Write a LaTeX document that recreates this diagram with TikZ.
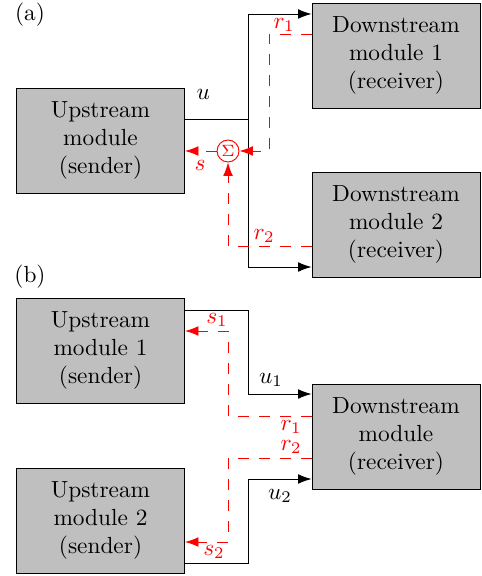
\documentclass[tikz,border=0pt]{standalone}
\usetikzlibrary{positioning, calc, arrows.meta}
\begin{document}
\begin{tikzpicture}[x=0.4286pt, y=-0.4286pt,
    module/.style={draw, fill=gray!50, align=center, minimum width=72pt, minimum height=45pt, inner sep=0pt},
    sig/.style={-{Latex[length=5.8pt,width=4.2pt]}},
    fb/.style={red, dash pattern=on 4.5pt off 4.5pt, -{Latex[length=5.8pt,width=4.2pt]}},
    sumnode/.style={circle, draw=red, fill=white, text=red, minimum size=9.4pt, inner sep=0pt, font=\scriptsize},
    lbl/.style={inner sep=0pt}]
    \useasboundingbox (0,0) rectangle (481,576);
    %parte (a)
    \node[lbl] (tagA) at (30,15) {(a)};
    \node[module] (up) at (100.5,140.5) {Upstream\\module\\(sender)};
    \node[module] (down1) at (396,55.5) {Downstream\\module 1\\(receiver)};
    \node[module] (down2) at (396,224.5) {Downstream\\module 2\\(receiver)};
    \node[sumnode] (sum) at (228,151) {$\Sigma$};
    %segnale u
    \coordinate (ua) at (248,119);
    \coordinate (ua1) at (248,14);
    \coordinate (ua2) at (248,267);
    \draw (up.east |- ua) -- node[lbl, pos=.29, above=8pt] (lu) {$u$} (ua);
    \draw[sig] (ua) -- (ua1) -- (down1.west |- ua1);
    \draw[sig] (ua) -- (ua2) -- (down2.west |- ua2);
    %ritorni r
    \coordinate (r1a) at (269,34);
    \coordinate (r2a) at (228,246);
    \draw[fb] (down1.west |- r1a) -- (r1a) -- (r1a |- sum) -- (sum.east);
    \draw[fb] (down2.west |- r2a) -- (r2a) -- (sum.south);
    \draw[fb] (sum.west) -- (up.east |- sum);
    \node[lbl, red] (lr1a) at (284,25) {$r_1$};
    \node[lbl, red] (lr2a) at (264,236) {$r_2$};
    \node[lbl, red] (lsa) at (200,165) {$s$};
    %parte (b)
    \node[lbl] (tagB) at (30,277) {(b)};
    \node[module] (up1) at (100.5,350.5) {Upstream\\module 1\\(sender)};
    \node[module] (up2) at (100.5,520.5) {Upstream\\module 2\\(sender)};
    \node[module] (downb) at (396,436.5) {Downstream\\module\\(receiver)};
    %segnali u1, u2
    \coordinate (u1b) at (248,310);
    \coordinate (u1e) at (248,394);
    \coordinate (u2b) at (248,563);
    \coordinate (u2e) at (248,479);
    \draw[sig] (up1.east |- u1b) -- (u1b) -- (u1e) -- (downb.west |- u1e);
    \draw[sig] (up2.east |- u2b) -- (u2b) -- (u2e) -- (downb.west |- u2e);
    \node[lbl] (lu1) at (271,380) {$u_1$};
    \node[lbl] (lu2) at (280,496) {$u_2$};
    %ritorni r1, r2
    \coordinate (r1b) at (228,416);
    \coordinate (s1b) at (228,331);
    \coordinate (r2b) at (228,458);
    \coordinate (s2b) at (228,542);
    \draw[fb] (downb.west |- r1b) -- (r1b) -- (s1b) -- (up1.east |- s1b);
    \draw[fb] (downb.west |- r2b) -- (r2b) -- (s2b) -- (up2.east |- s2b);
    \node[lbl, red] (lr1b) at (291,427) {$r_1$};
    \node[lbl, red] (lr2b) at (291,447) {$r_2$};
    \node[lbl, red] (ls1) at (217,320) {$s_1$};
    \node[lbl, red] (ls2) at (214,552) {$s_2$};
\end{tikzpicture}
\end{document}
